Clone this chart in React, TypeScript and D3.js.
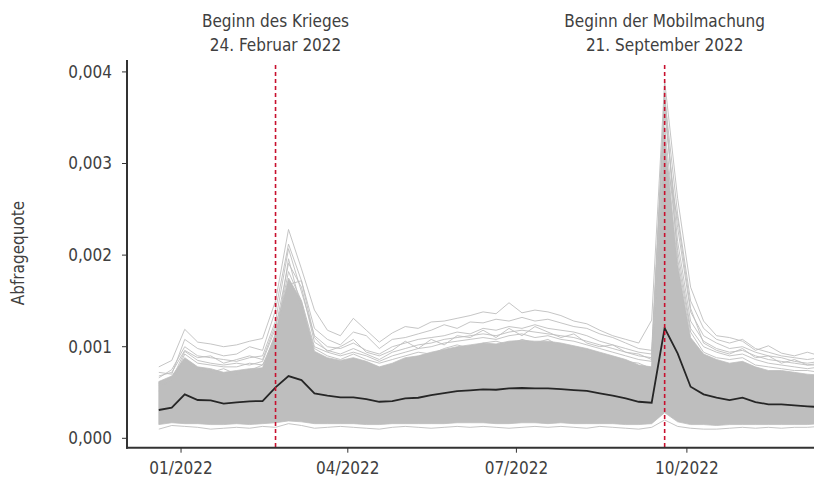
import * as d3 from 'd3';

// weekly series, first week Mon 20.12.2021
const weekStart = new Date(Date.UTC(2021, 11, 20));
const weekEnd = new Date(Date.UTC(2022, 11, 13));
const weeks = d3.utcMonday.range(weekStart, weekEnd);

const xTicks = ['2022-01-01', '2022-04-01', '2022-07-01', '2022-10-01'];
const xTickLabels = ['01/2022', '04/2022', '07/2022', '10/2022'];
const yTicks = [0, 0.001, 0.002, 0.003, 0.004];

const events = [
  { date: '2022-02-21', lines: ['Beginn des Krieges', '24. Februar 2022'] },
  { date: '2022-09-19', lines: ['Beginn der Mobilmachung', '21. September 2022'] },
];

// mean over all regions
const meanQuote = [
  0.000309, 0.000334, 0.00048, 0.000418, 0.000415, 0.000378, 0.000393, 0.000404, 0.000407, 0.000556,
  0.00068, 0.000636, 0.000491, 0.000465, 0.000447, 0.000447, 0.000429, 0.000399, 0.000407, 0.000436,
  0.000443, 0.000472, 0.000494, 0.000516, 0.000524, 0.000535, 0.00053, 0.000546, 0.000549, 0.000546,
  0.000546, 0.000538, 0.000527, 0.000518, 0.000491, 0.000465, 0.000436, 0.000399, 0.000388, 0.001203,
  0.000927, 0.000563, 0.00048, 0.000443, 0.000418, 0.000443, 0.000396, 0.000371, 0.000371, 0.00036,
  0.000349, 0.00034,
];

// dense body of the regional curves (lower / upper edge)
const bandLow = [
  0.00015, 0.00017, 0.00016, 0.00016, 0.00015, 0.00015, 0.00016, 0.00015, 0.00016, 0.00017,
  0.00019, 0.00018, 0.00016, 0.00016, 0.00016, 0.00016, 0.00015, 0.00015, 0.00016, 0.00016,
  0.00016, 0.00016, 0.00016, 0.00017, 0.00017, 0.00017, 0.00016, 0.00016, 0.00017, 0.00017,
  0.00016, 0.00017, 0.00016, 0.00016, 0.00016, 0.00016, 0.00015, 0.00015, 0.00016, 0.00028,
  0.00018, 0.00015, 0.00015, 0.00014, 0.00015, 0.00015, 0.00015, 0.00015, 0.00015, 0.00015,
  0.00015, 0.00016,
];
const bandHigh = [
  0.00062, 0.00068, 0.00088, 0.00078, 0.00076, 0.00072, 0.00074, 0.00076, 0.00077, 0.00115,
  0.00175, 0.0015, 0.00095, 0.00088, 0.00085, 0.00088, 0.00084, 0.00078, 0.00082, 0.00088,
  0.0009, 0.00094, 0.00097, 0.001, 0.00102, 0.00104, 0.00103, 0.00106, 0.00107, 0.00106,
  0.00106, 0.00104, 0.00101, 0.00098, 0.00094, 0.0009, 0.00086, 0.0008, 0.00078, 0.0033,
  0.0019, 0.0011, 0.00092, 0.00086, 0.00082, 0.00084, 0.00078, 0.00074, 0.00074, 0.00072,
  0.0007, 0.00069,
];

// single regions above / below the body
const regionA = [
  0.00078, 0.00085, 0.00119, 0.00105, 0.00103, 0.001, 0.00102, 0.00106, 0.00109, 0.0015,
  0.00228, 0.00185, 0.0014, 0.00118, 0.00112, 0.00131, 0.00118, 0.00105, 0.00115, 0.00122,
  0.0012, 0.00127, 0.00128, 0.00131, 0.00134, 0.00138, 0.00136, 0.00148, 0.00137, 0.0014,
  0.00138, 0.00134, 0.00128, 0.00125, 0.00118, 0.00112, 0.00108, 0.00104, 0.00129, 0.0039,
  0.00262, 0.00165, 0.00128, 0.00112, 0.0011, 0.00106, 0.00096, 0.00101, 0.00093, 0.0009,
  0.00094, 0.0009,
];
const regionB = [
  0.00072, 0.0007, 0.00108, 0.00098, 0.00094, 0.0009, 0.00092, 0.001, 0.00096, 0.0014,
  0.00212, 0.00172, 0.0012, 0.00108, 0.00102, 0.00116, 0.00112, 0.00098, 0.00108, 0.0011,
  0.00114, 0.00118, 0.00124, 0.0012, 0.00127, 0.00126, 0.0013, 0.00128, 0.00132, 0.00128,
  0.0013, 0.00126, 0.00122, 0.0012, 0.00114, 0.0011, 0.00104, 0.00098, 0.00096, 0.00372,
  0.00245, 0.0015, 0.0012, 0.00108, 0.00104, 0.00108, 0.00098, 0.00094, 0.0009, 0.00088,
  0.00086, 0.00088,
];
const regionC = [
  0.00066, 0.00075, 0.001, 0.0009, 0.00088, 0.00086, 0.00084, 0.00088, 0.0009, 0.00128,
  0.00207, 0.0016, 0.00112, 0.001, 0.00098, 0.00104, 0.00096, 0.00092, 0.001, 0.00104,
  0.00108, 0.0011, 0.00112, 0.00116, 0.00114, 0.0012, 0.00118, 0.00122, 0.0012, 0.00124,
  0.0012, 0.00118, 0.00116, 0.00112, 0.00106, 0.00102, 0.00098, 0.00094, 0.00092, 0.00355,
  0.0023, 0.00138, 0.00112, 0.00104, 0.00098, 0.001, 0.00094, 0.0009, 0.00088, 0.00084,
  0.00082, 0.00084,
];
const regionD = [
  0.00058, 0.00064, 0.00095, 0.00085, 0.00082, 0.0008, 0.00082, 0.0008, 0.00084, 0.0012,
  0.00191, 0.00165, 0.00105, 0.00096, 0.00092, 0.00098, 0.00092, 0.00086, 0.00094, 0.00098,
  0.00102, 0.00104, 0.00108, 0.0011, 0.00112, 0.00114, 0.00112, 0.00116, 0.00118, 0.00116,
  0.00114, 0.00112, 0.0011, 0.00106, 0.00102, 0.00098, 0.00094, 0.0009, 0.00088, 0.00365,
  0.00215, 0.00128, 0.00106, 0.00098, 0.00094, 0.00096, 0.0009, 0.00086, 0.00084, 0.00082,
  0.0008, 0.0008,
];
const regionE = [
  0.0006, 0.0006, 0.00092, 0.00082, 0.0008, 0.00078, 0.00078, 0.00082, 0.0008, 0.00112,
  0.00182, 0.0015, 0.001, 0.00094, 0.0009, 0.00094, 0.0009, 0.00084, 0.0009, 0.00094,
  0.00098, 0.001, 0.00104, 0.00106, 0.00108, 0.0011, 0.00108, 0.00112, 0.00114, 0.0011,
  0.00112, 0.00108, 0.00106, 0.00102, 0.00098, 0.00094, 0.0009, 0.00086, 0.00084, 0.0034,
  0.00205, 0.0012, 0.001, 0.00094, 0.0009, 0.00092, 0.00086, 0.00082, 0.0008, 0.00078,
  0.00076, 0.00078,
];
const regionF = [
  0.00068, 0.00072, 0.00096, 0.00088, 0.0009, 0.00082, 0.00086, 0.0009, 0.00086, 0.00124,
  0.00168, 0.00172, 0.0011, 0.00095, 0.001, 0.00108, 0.00094, 0.0009, 0.00096, 0.00106,
  0.00098, 0.00108, 0.00102, 0.00112, 0.0011, 0.00118, 0.0011, 0.0012, 0.00112, 0.00122,
  0.00116, 0.0011, 0.00114, 0.00104, 0.001, 0.00102, 0.00094, 0.00092, 0.00086, 0.0031,
  0.0024, 0.00142, 0.00104, 0.00096, 0.00092, 0.00098, 0.00088, 0.0009, 0.00082, 0.00086,
  0.0008, 0.00082,
];
const regionG = [
  0.00052, 0.00066, 0.00084, 0.00076, 0.00072, 0.00076, 0.0007, 0.00074, 0.0008, 0.00104,
  0.00196, 0.00142, 0.00098, 0.0009, 0.00086, 0.00092, 0.00086, 0.00082, 0.00086, 0.0009,
  0.00094, 0.00092, 0.00098, 0.00102, 0.00098, 0.00104, 0.00106, 0.00102, 0.00108, 0.00104,
  0.00108, 0.001, 0.00098, 0.00096, 0.00092, 0.00088, 0.00084, 0.00082, 0.00076, 0.00378,
  0.00196, 0.00116, 0.00094, 0.00088, 0.00086, 0.00088, 0.0008, 0.00078, 0.00076, 0.00074,
  0.00074, 0.00072,
];
const regionLow = [
  0.0001, 0.00014, 0.00013, 0.00012, 0.0001, 0.00011, 0.00012, 0.00011, 0.00013, 0.00012,
  0.00016, 0.00014, 0.00011, 0.00012, 0.00013, 0.00012, 0.00011, 0.0001, 0.00012, 0.00013,
  0.00012, 0.00011, 0.00012, 0.00013, 0.00012, 0.00013, 0.00012, 0.00011, 0.00012, 0.00013,
  0.00012, 0.00013, 0.00012, 0.00011, 0.00013, 0.00012, 0.00011, 0.0001, 0.00012, 0.0002,
  0.00013, 0.00011, 0.0001, 0.0001, 0.00011, 0.00012, 0.00011, 0.00012, 0.00011, 0.00012,
  0.00012, 0.00013,
];

const regions = [regionA, regionB, regionC, regionD, regionE, regionF, regionG, regionLow];

const W = 814;
const H = 480;
const FONT = '"Liberation Sans Narrow", "DejaVu Sans Condensed", "Liberation Sans", sans-serif';
const TEXT = '#404040';
const GREY = '#bebebe';

export default function App() {
  const x = d3
    .scaleUtc()
    .domain([new Date(Date.UTC(2021, 11, 3)), new Date(Date.UTC(2022, 11, 29))])
    .range([127.3, 851.8]);
  const y = d3.scaleLinear().domain([-0.0001025, 0.00413]).range([447.7, 60]);

  const left = 127;
  const bottom = y.range()[0];
  const top = y.range()[1];

  const line = d3
    .line<number>()
    .x((_, i) => x(weeks[i]))
    .y((d) => y(d));

  const band = d3
    .area<number>()
    .x((_, i) => x(weeks[i]))
    .y0((_, i) => y(bandLow[i]))
    .y1((d) => y(d));

  return (
    <svg
      width={W}
      height={H}
      style={{ position: 'absolute', left: 0, top: 0, background: '#fff' }}
      fontFamily={FONT}
    >
      <defs>
        <clipPath id="panel">
          <rect x={left} y={top} width={W - left} height={bottom - top} />
        </clipPath>
      </defs>

      <g clipPath="url(#panel)">
        <path d={band(bandHigh) ?? ''} fill={GREY} stroke={GREY} strokeWidth={0.8} />
        {regions.map((r, i) => (
          <path key={i} d={line(r) ?? ''} fill="none" stroke={GREY} strokeWidth={0.9} />
        ))}
        <path d={line(meanQuote) ?? ''} fill="none" stroke="#262626" strokeWidth={1.8} />
      </g>

      {/* event markers */}
      {events.map((e) => {
        const ex = x(new Date(e.date));
        return (
          <g key={e.date}>
            <line
              x1={ex}
              x2={ex}
              y1={65}
              y2={bottom}
              stroke="#c8102e"
              strokeWidth={1.6}
              strokeDasharray="4,3"
            />
            {e.lines.map((t, j) => (
              <text
                key={j}
                x={ex}
                y={27 + j * 24}
                textAnchor="middle"
                fontSize={17}
                fill={TEXT}
              >
                {t}
              </text>
            ))}
          </g>
        );
      })}

      {/* y axis */}
      <line x1={left} x2={left} y1={top} y2={bottom + 1} stroke="#333" strokeWidth={2} />
      {yTicks.map((t) => (
        <g key={t} transform={`translate(0,${y(t)})`}>
          <line x1={left - 5} x2={left} stroke="#333" strokeWidth={1} />
          <text x={left - 15} dy="0.35em" textAnchor="end" fontSize={17} fill={TEXT}>
            {t.toFixed(3).replace('.', ',')}
          </text>
        </g>
      ))}
      <text
        transform={`translate(24,253) rotate(-90)`}
        textAnchor="middle"
        fontSize={17}
        fill={TEXT}
      >
        Abfragequote
      </text>

      {/* x axis */}
      <line x1={left - 1} x2={W} y1={bottom} y2={bottom} stroke="#333" strokeWidth={2} />
      {xTicks.map((t, i) => {
        const tx = x(new Date(t));
        return (
          <g key={t} transform={`translate(${tx},${bottom})`}>
            <line y1={0} y2={5} stroke="#333" strokeWidth={1} />
            <text y={26} textAnchor="middle" fontSize={17} fill={TEXT}>
              {xTickLabels[i]}
            </text>
          </g>
        );
      })}
    </svg>
  );
}
